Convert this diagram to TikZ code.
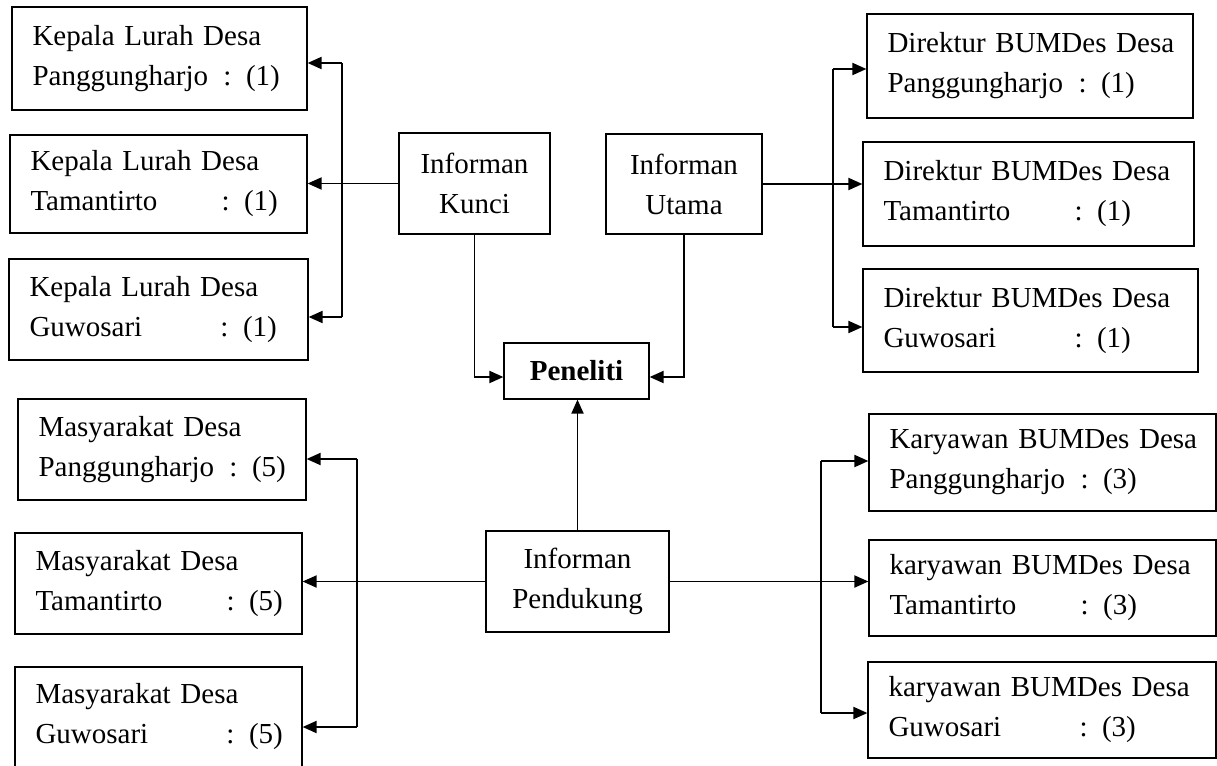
\documentclass[tikz,border=0pt]{standalone}
\usepackage{fontspec}
\setmainfont{Liberation Serif}
\usetikzlibrary{arrows.meta}
\newcommand\boxtext[3]{\mbox{#1}\\\mbox{\makebox[191pt][l]{#2}: #3}}
\tikzset{
  box/.style={draw=black, line width=1.2pt, rectangle, inner xsep=20.5pt, inner ysep=0pt,
    align=left, font=\fontsize{29pt}{40pt}\selectfont},
  cbox/.style={draw=black, line width=1.2pt, rectangle, inner sep=0pt,
    align=center, font=\fontsize{29pt}{40pt}\selectfont},
  conn/.style={line width=1.9pt, draw=black},
  arr/.style={conn, -{Triangle[length=14pt,width=12pt]}}
}
\begin{document}
\begin{tikzpicture}[x=1pt,y=-1pt]
\useasboundingbox (0,0) rectangle (1217,765);
\clip (0,0) rectangle (1217,765);
% left top
\node[box, minimum width=295pt, minimum height=103pt, text width=254pt] (L1) at (159.5,58.5) {\boxtext{Kepala Lurah Desa}{Panggungharjo}{(1)}};
\node[box, minimum width=297pt, minimum height=98pt, text width=256pt] (L2) at (158.5,184) {\boxtext{Kepala Lurah Desa}{Tamantirto}{(1)}};
\node[box, minimum width=299pt, minimum height=101pt, text width=258pt] (L3) at (158.5,309.5) {\boxtext{Kepala Lurah Desa}{Guwosari}{(1)}};
% centre
\node[cbox, minimum width=151pt, minimum height=101pt] (kunci) at (474.5,183.5) {Informan\\Kunci};
\node[cbox, minimum width=156pt, minimum height=100pt] (utama) at (684,184) {Informan\\Utama};
\node[cbox, minimum width=145pt, minimum height=56pt] (peneliti) at (576.5,371) {\textbf{Peneliti}};
\node[cbox, minimum width=183pt, minimum height=101pt] (pend) at (577.5,581.5) {Informan\\Pendukung};
% right top
\node[box, minimum width=326pt, minimum height=104pt, text width=285pt] (R1) at (1030,66) {\boxtext{Direktur BUMDes Desa}{Panggungharjo}{(1)}};
\node[box, minimum width=331pt, minimum height=104pt, text width=290pt] (R2) at (1028.5,194) {\boxtext{Direktur BUMDes Desa}{Tamantirto}{(1)}};
\node[box, minimum width=335pt, minimum height=103pt, text width=294pt] (R3) at (1030.5,320.5) {\boxtext{Direktur BUMDes Desa}{Guwosari}{(1)}};
% left bottom
\node[box, minimum width=288pt, minimum height=101pt, text width=247pt] (M1) at (162,449.5) {\boxtext{Masyarakat Desa}{Panggungharjo}{(5)}};
\node[box, minimum width=287pt, minimum height=101pt, text width=246pt] (M2) at (158.5,583.5) {\boxtext{Masyarakat Desa}{Tamantirto}{(5)}};
\node[box, minimum width=287pt, minimum height=100pt, text width=246pt] (M3) at (158.5,717) {\boxtext{Masyarakat Desa}{Guwosari}{(5)}};
% right bottom
\node[box, minimum width=347pt, minimum height=97pt, text width=306pt] (K1) at (1042.5,462.5) {\boxtext{Karyawan BUMDes Desa}{Panggungharjo}{(3)}};
\node[box, minimum width=347pt, minimum height=96pt, text width=306pt] (K2) at (1042.5,588) {\boxtext{karyawan BUMDes Desa}{Tamantirto}{(3)}};
\node[box, minimum width=348pt, minimum height=96pt, text width=307pt] (K3) at (1042,710) {\boxtext{karyawan BUMDes Desa}{Guwosari}{(3)}};
% bus coordinates
\coordinate (lt) at (342,63);
\coordinate (lb) at (342,317);
\coordinate (rt) at (833,69);
\coordinate (rb) at (833,327);
\coordinate (mt) at (357,459);
\coordinate (mb) at (357,727);
\coordinate (kt) at (821,461);
\coordinate (kb) at (821,713);
\coordinate (pk) at (0,377);
% connectors top-left
\draw[conn] (lt) -- (lb);
\draw[arr] (lt) -- (L1.east |- lt);
\draw[arr] (lb) -- (L3.east |- lb);
\draw[arr] (kunci.west) -- (L2.east |- kunci.west);
% connectors top-right
\draw[conn] (rt) -- (rb);
\draw[arr] (rt) -- (R1.west |- rt);
\draw[arr] (rb) -- (R3.west |- rb);
\draw[arr] (utama.east) -- (R2.west |- utama.east);
% to Peneliti
\draw[arr] (kunci.south) -- (kunci.south |- pk) -- (peneliti.west |- pk);
\draw[arr] (utama.south) -- (utama.south |- pk) -- (peneliti.east |- pk);
\draw[arr] (pend.north) -- (pend.north |- peneliti.south);
% bottom-left
\draw[conn] (mt) -- (mb);
\draw[arr] (mt) -- (M1.east |- mt);
\draw[arr] (mb) -- (M3.east |- mb);
\draw[arr] (pend.west) -- (M2.east |- pend.west);
% bottom-right
\draw[conn] (kt) -- (kb);
\draw[arr] (kt) -- (K1.west |- kt);
\draw[arr] (kb) -- (K3.west |- kb);
\draw[arr] (pend.east) -- (K2.west |- pend.east);
\end{tikzpicture}
\end{document}
